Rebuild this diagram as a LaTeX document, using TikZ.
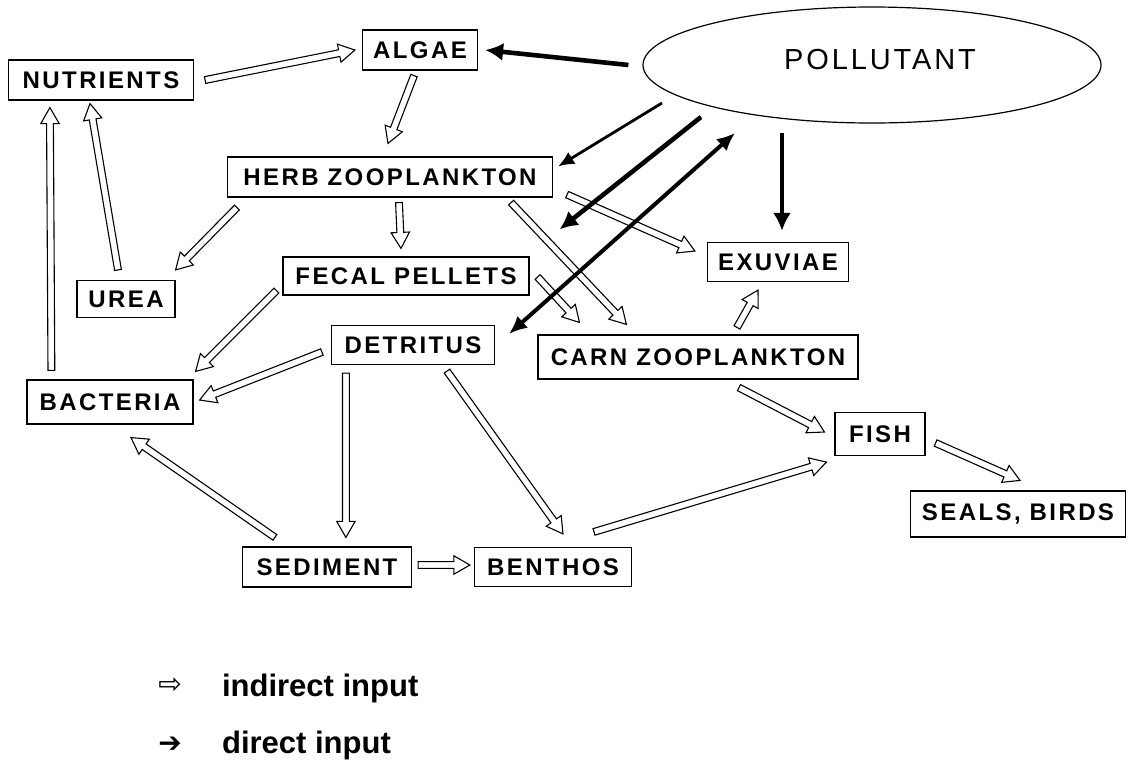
\documentclass[tikz,border=0pt]{standalone}
\usepackage{fontspec}
\setmainfont{Liberation Sans}
\newfontfamily\boxfont{Liberation Sans}[LetterSpace=10.0]
\newfontfamily\symfont{DejaVu Sans}
\usetikzlibrary{calc}
\usetikzlibrary{arrows.meta}
\usetikzlibrary{shapes.geometric}

\newcommand{\shaftw}{1.7pt}
\newcommand{\headw}{4.6pt}
\newcommand{\headlen}{8pt}
\newcommand{\hollowarrow}[2]{%
    \coordinate (ha-t) at ($#1$);
    \coordinate (ha-h) at ($#2$);
    \coordinate (ha-n) at ($(ha-h)!\headlen!(ha-t)$);
    \draw[indirect] ($(ha-t)!\shaftw!90:(ha-h)$) -- ($(ha-n)!\shaftw!-90:(ha-t)$)
        -- ($(ha-n)!\headw!-90:(ha-t)$) -- (ha-h) -- ($(ha-n)!\headw!90:(ha-t)$)
        -- ($(ha-n)!\shaftw!90:(ha-t)$) -- ($(ha-t)!\shaftw!-90:(ha-h)$) -- cycle;
}

\tikzset{
    box/.style={draw,line width=0.6pt,minimum height=20pt,inner sep=2pt,
        font=\fontsize{12}{14}\boxfont\bfseries},
    indirect/.style={draw,fill=white,line width=0.55pt,line join=miter},
    direct/.style={line width=2.3pt,-{Latex[length=9pt,width=9pt]}},
    legend/.style={font=\fontsize{15.5}{18}\selectfont\bfseries},
}

\begin{document}
\begin{tikzpicture}[x=0.5pt,y=-0.5pt]
    \useasboundingbox (0,0) rectangle (1132,778);

    \node (poll) at (872,65) [ellipse,draw,line width=0.6pt,inner sep=0pt,
        minimum width=229pt,minimum height=58pt,
        label={[xshift=4pt,yshift=2.5pt,font=\fontsize{14.5}{17}\boxfont]center:POLLUTANT}]{};

    \node (nutr) at (101,80) [box,minimum width=92.5pt]{NUTRIENTS};
    \node (algae) at (420,50) [box,minimum width=57.5pt]{ALGAE};
    \node (herb) at (390,177) [box,minimum width=162.5pt]{HERB ZOOPLANKTON};
    \node (urea) at (126,299) [box,minimum width=49pt,minimum height=18.5pt]{UREA};
    \node (fecal) at (406,276) [box,minimum width=123pt,minimum height=19pt]{FECAL PELLETS};
    \node (exuv) at (778,262) [box,minimum width=70.5pt,minimum height=19.5pt]{EXUVIAE};
    \node (detr) at (413,345) [box,minimum width=81.5pt,minimum height=19.5pt]{DETRITUS};
    \node (carn) at (698,357) [box,minimum width=160pt,minimum height=22pt]{CARN ZOOPLANKTON};
    \node (bact) at (110,402) [box,minimum width=83pt,minimum height=22pt]{BACTERIA};
    \node (fish) at (880,434) [box,minimum width=45pt,minimum height=21.5pt]{FISH};
    \node (seals) at (1018,514) [box,minimum width=107.5pt,minimum height=23pt]{SEALS, BIRDS};
    \node (sed) at (327,567) [box,minimum width=84.5pt]{SEDIMENT};
    \node (benth) at (553,567) [box,minimum width=78.5pt,minimum height=19.5pt]{BENTHOS};

    % indirect input
    \hollowarrow{(nutr.east)+(11,0)}{(algae.west)+(-7,0)}
    \hollowarrow{(algae.south)+(-6,5)}{(herb.north)+(-2,-13)}
    \hollowarrow{(herb.south west)+(10,10)}{(urea.north east)+(0,-10)}
    \hollowarrow{(urea.north)+(-8,-10)}{(nutr.south)+(-11,3)}
    \hollowarrow{(bact.north west)+(25,-9)}{(nutr.south west)+(42,7)}
    \hollowarrow{(herb.south)+(9,5)}{(fecal.north)+(-5,-8)}
    \hollowarrow{(herb.south east)+(14,-3)}{(exuv.west)+(-12,-11)}
    \hollowarrow{(herb.south east)+(-42,5)}{(carn.north west)+(89,-10)}
    \hollowarrow{(fecal.east)+(8,1)}{(carn.north west)+(42,-12)}
    \hollowarrow{(fecal.south west)+(-6,-5)}{(bact.north east)+(2,-8)}
    \hollowarrow{(detr.west)+(-9,7)}{(bact.east)+(6,-2)}
    \hollowarrow{(detr.south west)+(15,8)}{(sed.north west)+(104,-9)}
    \hollowarrow{(sed.north west)+(33,-9)}{(bact.south)+(21,13)}
    \hollowarrow{(detr.south)+(34,6)}{(benth.north)+(10,-13)}
    \hollowarrow{(sed.east)+(6,-2)}{(benth.west)+(-4,-2)}
    \hollowarrow{(benth.north)+(41,-15)}{(fish.south west)+(-8,6)}
    \hollowarrow{(carn.south)+(41,8)}{(fish.west)+(-10,-2)}
    \hollowarrow{(carn.north)+(39,-7)}{(exuv.south)+(-20,8)}
    \hollowarrow{(fish.east)+(10,9)}{(seals.north)+(2,-10)}

    % direct input
    \coordinate (fecaltip) at ($(fecal.north east)+(30,-27)$);
    \draw[direct] ($(poll.west)+(-14,0)$) -- ($(algae.east)+(7,0)$);
    \draw[direct,line width=1.4pt,-{Latex[length=8pt,width=7pt]}] ($(poll.center)+(-210,38)$) -- ($(herb.north east)+(5,10)$);
    \draw[direct] ($(poll.center)+(-171,52)$) -- (fecaltip);
    \draw[direct,line width=2pt,{Latex[length=9pt,width=8pt]}-{Latex[length=9pt,width=8pt]}] ($(detr.north east)+(14,9)$) -- ($(poll.center)+(-137,68)$);
    \draw[direct] ($(poll.center)+(-90,68)$) -- ($(exuv.north)+(4,-11)$);

    \node (indsym) at (170,686) [font=\fontsize{14}{16}\symfont]{⇨};
    \node (indlab) at (215,688) [anchor=west,legend]{indirect input};
    \node (dirsym) at (170,745) [font=\fontsize{14}{16}\symfont]{➔};
    \node (dirlab) at (215,745) [anchor=west,legend]{direct input};
\end{tikzpicture}
\end{document}
